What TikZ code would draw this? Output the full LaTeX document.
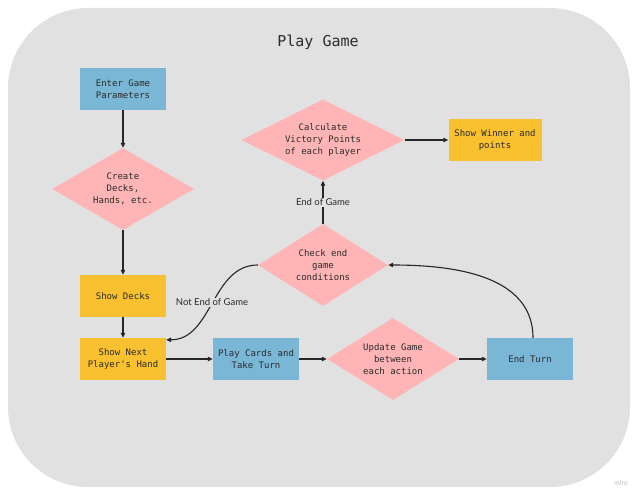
\documentclass[tikz,border=0pt]{standalone}
\usepackage{fontspec}
\setmonofont{DejaVu Sans Mono}
\newfontfamily\labelfont{Lato}
\usetikzlibrary{arrows.meta, positioning, shapes.geometric}
\definecolor{boardgray}{HTML}{E1E1E1}
\definecolor{stepblue}{HTML}{7AB7D6}
\definecolor{stepyellow}{HTML}{F9C02F}
\definecolor{checkpink}{HTML}{FFB5B5}
\definecolor{inkgray}{HTML}{2B2B2B}
\tikzset{
    bluebox/.style={rectangle, fill=stepblue, minimum width=86pt, minimum height=42pt, inner sep=1pt, align=center, text=inkgray, font=\ttfamily\fontsize{9}{12}\selectfont},
    yellowbox/.style={bluebox, fill=stepyellow},
    pinkdiamond/.style={diamond, fill=checkpink, inner sep=0pt, aspect=1.7, align=center, text=inkgray, font=\ttfamily\fontsize{9}{12}\selectfont},
    flowarrow/.style={draw=black!85, line width=1.1pt, -{Triangle[length=5pt, width=4.5pt]}},
    flowlabel/.style={fill=boardgray, inner sep=1pt, text=inkgray, font=\labelfont\fontsize{9.5}{11}\selectfont},
}

\begin{document}
\begin{tikzpicture}[x=1pt, y=-1pt]
    \useasboundingbox (0,0) rectangle (637,494);
    % Board
    \fill[boardgray, rounded corners=80pt] (8,8) rectangle (630,487);
    \node[text=inkgray, font=\ttfamily\fontsize{15}{18}\selectfont] (title) at (318,42) {Play Game};

    % Setup column
    \node[bluebox] (enter) at (123,89) {Enter Game\\Parameters};
    \node[pinkdiamond, minimum width=142pt, minimum height=82pt] (create) at (123,189) {Create\\Decks,\\Hands, etc.};
    \node[yellowbox] (decks) at (123,296) {Show Decks};
    \node[yellowbox] (hand) at (123,359) {Show Next\\Player's Hand};

    % Turn row
    \node[bluebox] (play) at (256,359) {Play Cards and\\Take Turn};
    \node[pinkdiamond, aspect=1.6, minimum width=132pt, minimum height=82pt] (update) at (393,359) {Update Game\\between\\each action};
    \node[bluebox] (endturn) at (530,359) {End Turn};

    % End of game
    \node[pinkdiamond, aspect=1.6, minimum width=130pt, minimum height=82pt] (check) at (323,265) {Check end\\game\\conditions};
    \node[pinkdiamond, aspect=2, minimum width=163pt, minimum height=81pt] (calc) at (323,140) {Calculate\\Victory Points\\of each player};
    \node[yellowbox, minimum width=93pt] (winner) at (495,140) {Show Winner and\\points};

    \node[text=black!25, font=\labelfont\fontsize{7}{8}\selectfont] (watermark) at (621,483) {miro};

    % Arrows
    \draw[flowarrow] (enter) -- (create);
    \draw[flowarrow] (create) -- (decks);
    \draw[flowarrow] (decks) -- (hand);
    \draw[flowarrow] (hand) -- (play);
    \draw[flowarrow] (play) -- (update);
    \draw[flowarrow] (update) -- (endturn);
    \draw[flowarrow] ([xshift=3pt]endturn.north) to[out=90, in=0] (check.east);
    \draw[flowarrow] (check.west) to[out=180, in=0] node[flowlabel] {Not End of Game} ([yshift=-2pt]hand.north east);
    \draw[flowarrow] (check.north) -- node[flowlabel] {End of Game} (calc.south);
    \draw[flowarrow] (calc.east) -- (winner.west);
\end{tikzpicture}
\end{document}
